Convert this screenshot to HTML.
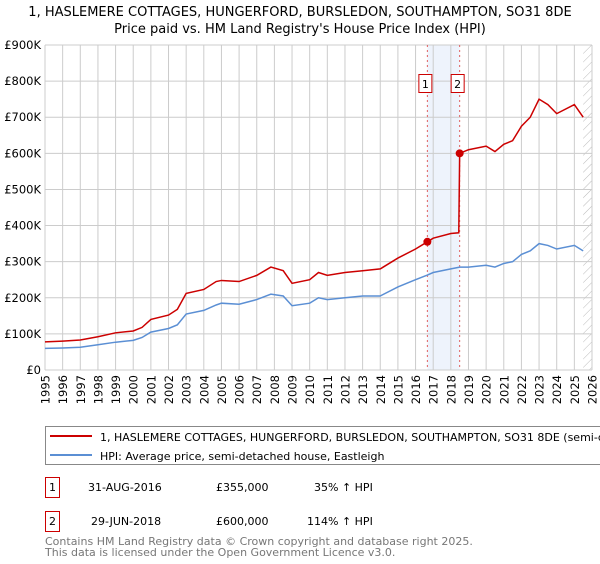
<!DOCTYPE html>
<html><head><meta charset="utf-8"><style>
body{margin:0;background:#fff;font-family:"DejaVu Sans","Liberation Sans",sans-serif;}
svg text{font-family:"DejaVu Sans","Liberation Sans",sans-serif;}
</style></head><body>
<svg id="c" width="600" height="560" xmlns="http://www.w3.org/2000/svg">
<defs><pattern id="hatch" width="6" height="6" patternUnits="userSpaceOnUse" patternTransform="rotate(45)"><line x1="0" y1="0" x2="0" y2="6" stroke="#bbb" stroke-width="1"/></pattern></defs>
<text x="300" y="16" text-anchor="middle" font-size="13">1, HASLEMERE COTTAGES, HUNGERFORD, BURSLEDON, SOUTHAMPTON, SO31 8DE</text>
<text x="300" y="33" text-anchor="middle" font-size="13">Price paid vs. HM Land Registry's House Price Index (HPI)</text>
<g id="grid"></g><g id="marks"></g><g id="axes"></g>
<g>
<rect x="45.5" y="426.5" width="570" height="38" fill="#fff" stroke="#888"/>
<line x1="50" y1="436" x2="92" y2="436" stroke="#cc0000" stroke-width="2"/>
<text x="100" y="441" font-size="11">1, HASLEMERE COTTAGES, HUNGERFORD, BURSLEDON, SOUTHAMPTON, SO31 8DE (semi-detached house)</text>
<line x1="50" y1="455" x2="92" y2="455" stroke="#5b8fd4" stroke-width="2"/>
<text x="100" y="460" font-size="11">HPI: Average price, semi-detached house, Eastleigh</text>
</g>
<g font-size="11">
<rect x="45.5" y="477.5" width="14" height="20" fill="#fff" stroke="#cc0000"/>
<text x="52.5" y="491" text-anchor="middle">1</text>
<text x="88" y="491">31-AUG-2016</text>
<text x="216" y="491">£355,000</text>
<text x="314" y="491">35% ↑ HPI</text>
<rect x="45.5" y="511.5" width="14" height="20" fill="#fff" stroke="#cc0000"/>
<text x="52.5" y="525" text-anchor="middle">2</text>
<text x="91" y="525">29-JUN-2018</text>
<text x="216" y="525">£600,000</text>
<text x="307" y="525">114% ↑ HPI</text>
</g>
<text x="45" y="545" font-size="11" fill="#777">Contains HM Land Registry data © Crown copyright and database right 2025.</text>
<text x="45" y="556" font-size="11" fill="#777">This data is licensed under the Open Government Licence v3.0.</text>
</svg>
<script>
const yearTicks=[1995,1996,1997,1998,1999,2000,2001,2002,2003,2004,2005,2006,2007,2008,2009,2010,2011,2012,2013,2014,2015,2016,2017,2018,2019,2020,2021,2022,2023,2024,2025,2026];
const priceTicks=[0,100,200,300,400,500,600,700,800,900];
const priceTickLabels=["£0","£100K","£200K","£300K","£400K","£500K","£600K","£700K","£800K","£900K"];
const hpiYears=[1995,1996,1997,1998,1999,2000,2000.5,2001,2002,2002.5,2003,2004,2004.7,2005,2006,2007,2007.8,2008.5,2009,2010,2010.5,2011,2012,2013,2014,2015,2016,2016.67,2017,2018,2018.5,2019,2020,2020.5,2021,2021.5,2022,2022.5,2023,2023.5,2024,2025,2025.5];
const hpiValues=[60,61,63,70,77,82,90,105,115,125,155,165,180,185,182,195,210,205,178,185,200,195,200,205,205,230,250,263,270,280,285,285,290,285,295,300,320,330,350,345,335,345,330];
const propYears=[1995,1996,1997,1998,1999,2000,2000.5,2001,2002,2002.5,2003,2004,2004.7,2005,2006,2007,2007.8,2008.5,2009,2010,2010.5,2011,2012,2013,2014,2015,2016,2016.67,2017,2018,2018.45,2018.5,2019,2020,2020.5,2021,2021.5,2022,2022.5,2023,2023.5,2024,2025,2025.5];
const propValues=[78,80,83,92,103,108,118,140,152,168,212,223,245,248,245,262,285,275,240,250,270,262,270,275,280,310,335,355,365,378,380,600,610,620,605,625,635,675,700,750,735,710,735,700];
const saleYears=[2016.67,2018.5];
const saleValues=[355,600];
const saleLabels=["1","2"];
const X0=45,X1=592,Y0=370,Y1=45;
const xs=y=>X0+(y-1995)*(X1-X0)/31;
const ys=v=>Y0-v*(Y0-Y1)/900;
const NS="http://www.w3.org/2000/svg";
function mk(p,t,a){const e=document.createElementNS(NS,t);for(const k in a)e.setAttribute(k,a[k]);p.appendChild(e);return e;}
const grid=document.getElementById('grid'),marks=document.getElementById('marks'),axes=document.getElementById('axes');
const sh=mk(grid,'rect',{x:xs(saleYears[0]),y:Y1,width:xs(saleYears[1])-xs(saleYears[0]),height:Y0-Y1,fill:'#eef3fc'});


const ht=mk(grid,'rect',{x:xs(2025.5),y:Y1,width:X1-xs(2025.5),height:Y0-Y1,fill:'url(#hatch)'});


yearTicks.forEach((y,i)=>{
 const l=mk(grid,'line',{x1:xs(y),x2:xs(y),y1:Y1,y2:Y0,stroke:'#ccc','stroke-width':1});
 
 
 const tx=xs(y)+4.5,ty=Y0+5;
 const t=mk(axes,'text',{x:tx,y:ty,'text-anchor':'end','font-size':11.5,transform:'rotate(-90 '+tx+' '+ty+')'});
 
 
 t.textContent=y;
});
priceTicks.forEach((v,i)=>{
 const l=mk(grid,'line',{x1:X0,x2:X1,y1:ys(v),y2:ys(v),stroke:'#ccc','stroke-width':1});
 
 
 const t=mk(axes,'text',{x:X0-4,y:ys(v)+4,'text-anchor':'end','font-size':11.5});
 
 
 t.textContent=priceTickLabels[i];
});
saleYears.forEach((y,i)=>{
 const l=mk(marks,'line',{x1:xs(y),x2:xs(y),y1:Y1,y2:Y0,stroke:'#e06060','stroke-dasharray':'2,3','stroke-width':1});
 
 
});
const hp=mk(marks,'polyline',{points:hpiYears.map((y,i)=>xs(y)+','+ys(hpiValues[i])).join(' '),fill:'none',stroke:'#5b8fd4','stroke-width':1.5});


const pp=mk(marks,'polyline',{points:propYears.map((y,i)=>xs(y)+','+ys(propValues[i])).join(' '),fill:'none',stroke:'#cc0000','stroke-width':1.5});


saleYears.forEach((y,i)=>{
 const c=mk(marks,'circle',{cx:xs(y),cy:ys(saleValues[i]),r:4,fill:'#cc0000'});
 
 
 const b=mk(marks,'rect',{x:xs(y)-8.5,y:74.5,width:13,height:18,fill:'#fff',stroke:'#cc0000'});
 
 
 const t=mk(marks,'text',{x:xs(y)-2,y:88,'text-anchor':'middle','font-size':11});
 
 
 t.textContent=saleLabels[i];
});
</script>
</body></html>
